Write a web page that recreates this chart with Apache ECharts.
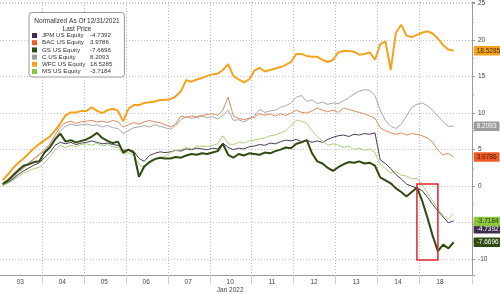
<!DOCTYPE html>
<html><head><meta charset="utf-8">
<script src="https://cdn.jsdelivr.net/npm/echarts@6/dist/echarts.min.js"></script>
<style>html,body{margin:0;padding:0;background:#fff}#c{width:500px;height:294px}</style>
</head><body><div id="c"></div>
<script>
// ---- data ----
const days = ['03','04','05','06','07','10','11','12','13','14','18'];
const slotsPerDay = 8;
const padSlots = 2;
const monthLabel = 'Jan 2022';
const monthLabelDay = '10';
const legendTitle = 'Normalized As Of 12/31/2021';
const legendSub = 'Last Price';
const seriesNames = ['JPM US Equity','BAC US Equity','GS US Equity','C US Equity','WFC US Equity','MS US Equity'];

const jpm = [0.1,0.5,1.0,1.6,2.1,2.5,2.9,3.2, 3.9,4.6,5.6,6.0,5.8,6.0,5.7,5.9, 6.0,6.2,6.0,5.8,5.9,5.7,5.6,4.9,
  5.0,4.8,3.8,3.4,4.2,4.5,4.7,4.6, 4.7,4.9,4.8,5.1,5.0,5.2,5.1,5.0, 5.2,5.1,5.9,5.3,5.0,5.2,5.1,5.4,
  5.5,5.7,5.6,5.9,5.8,6.1,6.3,6.2, 6.4,6.1,6.3,6.0,6.2,6.0,6.4,6.7, 6.9,7.0,6.8,7.1,7.0,7.2,7.1,7.3,
  3.6,3.1,2.4,1.6,1.0,0.3,0.0,-0.3, -0.6,-1.5,-2.5,-3.4,-4.2,-5.0,-4.7392];
const bac = [0.2,0.7,1.3,2.0,2.6,3.2,3.8,4.4, 5.0,5.8,7.0,8.1,8.7,8.9,8.6,8.8, 8.9,9.0,8.8,8.9,8.7,9.0,8.8,8.1,
  8.4,8.7,8.5,8.8,9.0,8.8,8.7,8.4, 8.1,8.5,9.6,9.4,9.6,9.5,9.7,9.8, 9.9,9.7,10.4,12.2,9.6,9.3,9.1,9.3,
  9.4,9.9,9.7,9.9,9.6,9.9,9.7,10.0, 10.4,10.1,10.0,10.3,10.7,10.4,10.2,10.4, 10.1,10.7,10.5,10.3,10.1,9.9,9.6,9.3,
  8.0,7.6,7.3,7.1,7.3,7.0,7.2,7.1, 6.9,6.6,6.0,4.9,4.3,4.5,3.9786];
const gs = [0.3,0.8,1.5,2.2,2.8,3.0,3.3,3.4, 4.6,5.3,6.4,7.2,6.1,6.3,6.0,6.2, 6.4,6.8,7.3,6.6,6.2,5.9,6.1,4.6,
  5.0,4.6,1.3,2.7,3.3,3.7,3.9,3.8, 3.8,4.0,3.9,4.2,4.4,4.3,4.5,4.4, 4.6,4.8,5.8,4.3,3.9,4.4,4.2,4.5,
  4.4,4.3,4.6,4.5,4.8,5.0,5.3,5.2, 5.8,6.0,6.3,4.5,3.4,3.1,2.5,2.1, 2.6,3.0,3.3,3.2,3.4,3.1,3.2,2.8,
  1.2,0.8,0.4,-0.3,-0.8,-1.4,-0.8,-0.2, -2.0,-4.3,-6.8,-8.9,-8.0,-8.5,-7.6696];
const citi = [0.2,0.6,1.1,1.8,2.5,3.1,3.7,4.3, 4.8,5.6,6.6,7.6,8.2,8.5,8.3,8.4, 8.5,8.3,8.4,8.1,8.3,8.0,7.9,7.2,
  7.6,8.0,8.1,8.3,8.1,8.4,8.2,8.0, 7.8,8.3,9.1,9.5,9.3,9.4,9.6,9.4, 9.5,9.2,9.7,10.4,9.0,9.1,8.8,9.2,
  9.6,10.5,10.1,10.3,10.4,10.8,11.0,11.4, 12.2,12.4,11.6,11.8,11.3,11.5,11.2,11.4, 11.3,11.7,12.1,12.6,13.0,13.2,13.1,12.4,
  10.4,9.0,8.2,7.9,8.5,9.6,10.8,11.2, 11.4,11.0,10.4,9.6,8.8,8.2,8.2093];
const wfc = [0.8,1.6,2.5,3.2,3.8,4.5,5.2,5.8, 6.3,6.8,7.6,8.6,9.7,10.1,10.1,10.3, 10.3,10.8,10.3,10.0,10.4,10.6,10.3,8.9,
  10.6,11.1,11.1,11.4,11.5,11.6,11.8,11.8, 11.9,12.3,13.0,14.5,14.3,14.6,14.8,15.1, 15.3,15.4,15.9,16.7,15.1,14.6,14.2,14.6,
  15.8,16.2,15.7,15.9,16.1,16.3,16.6,17.0, 18.1,18.1,17.8,17.7,17.7,17.3,17.0,17.3, 18.3,18.5,18.5,18.4,18.0,18.1,18.3,17.3,
  19.4,19.8,15.9,21.0,22.1,20.6,20.4,20.7, 21.0,21.2,20.9,20.2,19.3,18.7,18.5285];
const ms = [0.1,0.4,0.8,1.3,1.8,2.1,2.4,2.6, 3.2,4.0,5.0,5.6,5.3,5.6,5.4,5.7, 5.8,5.6,5.9,5.5,5.7,5.4,5.3,4.4,
  4.6,4.2,3.0,2.5,3.2,3.6,3.9,4.1, 4.6,4.9,5.0,5.3,5.1,5.4,5.5,5.4, 5.6,5.8,6.9,5.8,5.7,6.0,5.9,6.2,
  6.3,6.5,6.6,6.9,7.0,7.3,7.6,8.3, 9.0,8.9,8.6,7.6,6.8,6.2,5.6,5.8, 5.6,5.3,5.5,5.0,5.2,4.9,5.1,4.6,
  3.0,2.4,1.8,2.0,1.5,1.4,1.0,1.1, 0.2,-0.9,-2.0,-3.1,-4.0,-4.5,-3.7184];

// highlight box (category slot index range, value range)
const boxSlots = [79, 83];
const boxValues = [0.3, -10.1];

// ---- build ----
const fontFamily = "'Liberation Sans', Arial, sans-serif";
const categories = [];
days.forEach(d => { for (let s = 0; s < slotsPerDay; s++) categories.push(d + '|' + s); });
for (let p = 0; p < padSlots; p++) categories.push('|pad' + p);
const pad = arr => { const o = arr.slice(); while (o.length < categories.length) o.push(null); return o; };

const dataByName = {
  'JPM US Equity': jpm, 'BAC US Equity': bac, 'GS US Equity': gs,
  'C US Equity': citi, 'WFC US Equity': wfc, 'MS US Equity': ms
};
const lastVal = name => { const a = dataByName[name]; return a[a.length - 1]; };

const style = {
  'JPM US Equity': {color:'#3d2c4e', line:'#4a3b58', w:1, txt:'#fff', off:8, z:3},
  'BAC US Equity': {color:'#ef5b24', line:'#e08a60', w:1, txt:'#4a1a05', off:0, z:2},
  'GS US Equity':  {color:'#2f4a10', line:'#2f4a10', w:2, txt:'#fff', off:0, z:5},
  'C US Equity':   {color:'#9c9c9c', line:'#a8a8a8', w:1, txt:'#fff', off:0, z:1},
  'WFC US Equity': {color:'#f4a31f', line:'#f4a31f', w:2, txt:'#4a2a00', off:0, z:6},
  'MS US Equity':  {color:'#8cc63f', line:'#a9d27a', w:1, txt:'#2a3a10', off:8, z:4}
};
const drawOrder = ['C US Equity','BAC US Equity','JPM US Equity','MS US Equity','GS US Equity','WFC US Equity'];

const series = drawOrder.map(name => {
  const st = style[name];
  const s = {
    name, type:'line', data: pad(dataByName[name]), symbol:'none', showSymbol:false, z: 2 + st.z,
    itemStyle:{color: st.color}, lineStyle:{color: st.line, width: st.w},
    emphasis:{disabled:true},
    endLabel:{show:true, formatter: p => Number(p.value).toFixed(4), backgroundColor: st.color, color: st.txt,
      fontSize:6.5, fontFamily, padding:[1.5,3,1,3], distance:20, offset:[0, st.off], borderRadius:1}
  };
  if (name === 'GS US Equity') {
    s.markArea = { silent:true, z: 10,
      itemStyle:{color:'rgba(0,0,0,0)', borderColor:'#e3212b', borderWidth:1.5},
      data:[[{xAxis: categories[boxSlots[0]], yAxis: boxValues[0]}, {xAxis: categories[boxSlots[1]], yAxis: boxValues[1]}]] };
  }
  return s;
});

const chart = echarts.init(document.getElementById('c'), null, {renderer:'canvas'});
const isBoundary = i => i % slotsPerDay === 0 && i > 0 && i < days.length * slotsPerDay;
chart.setOption({
  animation:false,
  backgroundColor:'#fff',
  textStyle:{fontFamily},
  title:{text: legendTitle + '\n' + legendSub, left:77, top:17.5, textAlign:'center', padding:0, z:20,
    textStyle:{fontSize:6.5, lineHeight:7.7, fontWeight:'normal', color:'#333', fontFamily}},
  legend:{data: seriesNames, orient:'vertical', left:29, top:12.5, icon:'rect', itemWidth:5, itemHeight:5, itemGap:1.2,
    padding:[20,12,2.5,3], backgroundColor:'#fff', borderColor:'#9a9a9a', borderWidth:1, borderRadius:3,
    selectedMode:false, z:15,
    formatter: name => '{n|' + name + '}{v|' + lastVal(name).toFixed(4) + '}',
    textStyle:{fontSize:6.2, color:'#333', fontFamily,
      rich:{n:{width:48, fontSize:6.2, lineHeight:7, color:'#333', fontFamily}, v:{fontSize:6.2, lineHeight:7, color:'#333', fontFamily}}}},
  grid:{left:-1, right:28, top:0, bottom:17, containLabel:false},
  xAxis:{type:'category', data:categories, boundaryGap:true,
    axisLine:{show:true, onZero:false, lineStyle:{color:'#9a9a9a', width:1}},
    axisTick:{show:true, interval:(i) => isBoundary(i), length:9, lineStyle:{color:'#d0d0d0'}},
    splitLine:{show:true, interval:(i) => isBoundary(i), lineStyle:{color:'#b8b8b8', type:[1,2], width:1}},
    axisLabel:{interval:(i) => i % slotsPerDay === 3 && i < days.length * slotsPerDay,
      formatter: v => { const d = v.split('|')[0]; return d === monthLabelDay ? d + '\n' + monthLabel : d; },
      fontSize:6.5, color:'#444', fontFamily, margin:3, lineHeight:8, padding:[0,0,0,4]}},
  yAxis:{type:'value', position:'right', min:-12.15, max:25.2, splitNumber:8, minInterval:5, maxInterval:5,
    axisLine:{show:true, lineStyle:{color:'#9a9a9a'}},
    axisTick:{show:true, length:3, lineStyle:{color:'#9a9a9a'}},
    minorTick:{show:true, splitNumber:2, length:2, lineStyle:{color:'#aaa'}},
    splitLine:{show:true, lineStyle:{color:'#c8c8c8', type:[1,2]}},
    axisLabel:{showMinLabel:false, showMaxLabel:false, fontSize:6.5, color:'#444', fontFamily, margin:6}},
  series
});
</script></body></html>
